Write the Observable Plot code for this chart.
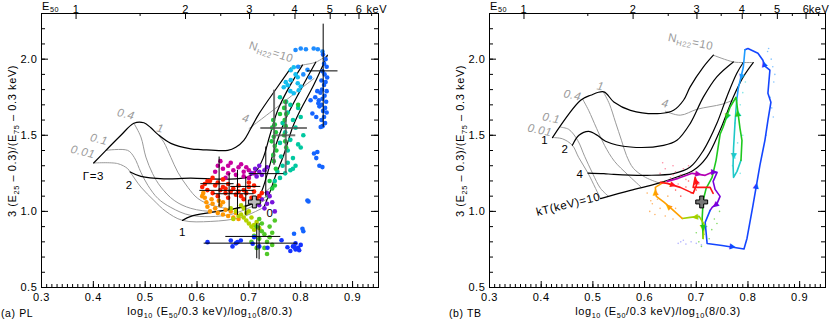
<!DOCTYPE html>
<html>
<head>
<meta charset="utf-8">
<script src="https://cdn.jsdelivr.net/npm/d3@7"></script>
<script src="https://cdn.jsdelivr.net/npm/@observablehq/plot@0.6"></script>
<style>
html,body{margin:0;padding:0;background:#fff;}
#wrap{display:flex;flex-direction:row;width:830px;height:321px;overflow:hidden;}
#wrap svg{display:block;flex:none;}
</style>
</head>
<body>
<div id="wrap"></div>
<script>
const FONT = "'Liberation Sans', Arial, Helvetica, sans-serif";
const LS = "0.6px";

// ---------- axis ticks ----------
const xTickMajor = [0.3,0.4,0.5,0.6,0.7,0.8,0.9];
const xTickMinor = d3.range(31, 95).map(i => i / 100);
const yTickMajor = [0.5,1.0,1.5,2.0];
const yTickMinor = d3.range(6, 23).map(i => i / 10);
const eTickMajor = [1,2,3,4,5,6];
const eTickMinor = [1.5,2.5,3.5,4.5,5.5,6.5];
const eUnit = "keV";
const toX = E => Math.log10(E / 0.3) / Math.log10(8 / 0.3);

// ---------- (a) PL model grid ----------
const pl_G3 = [[0.4006,1.318],[0.4243,1.401],[0.4532,1.5],[0.4782,1.579],[0.4975,1.582],[0.511,1.549],[0.5245,1.506],[0.5495,1.447],[0.588,1.411],[0.6073,1.406],[0.6593,1.401],[0.6747,1.421],[0.6902,1.467],[0.7029,1.54],[0.7197,1.642],[0.7551,1.817],[0.7807,1.941]];
const pl_G2 = [[0.4711,1.259],[0.4917,1.230],[0.536,1.214],[0.588,1.218],[0.6522,1.212],[0.6973,1.225],[0.715,1.27],[0.7275,1.35],[0.7405,1.5],[0.7551,1.66],[0.775,1.8],[0.8033,1.961]];
const pl_G1 = [[0.572,0.941],[0.588,0.967],[0.6266,0.993],[0.6747,1.02],[0.7075,1.053],[0.723,1.12],[0.7358,1.25],[0.7486,1.4],[0.77,1.6],[0.80,1.8],[0.8289,1.98]];
const pl_G0 = [[0.7287,1.026],[0.7383,1.105],[0.7518,1.237],[0.7672,1.37],[0.784,1.55],[0.797,1.65],[0.825,1.83],[0.8514,2.026]];
const pl_NH001 = [[0.4006,1.318],[0.4468,1.314],[0.4661,1.281],[0.4711,1.258],[0.4917,1.16],[0.5168,1.072],[0.5399,1.0],[0.572,0.941],[0.6266,0.934],[0.6844,0.96],[0.7287,1.026]];
const pl_NH01 = [[0.4243,1.401],[0.4661,1.401],[0.4788,1.355],[0.4917,1.257],[0.5052,1.171],[0.5245,1.085],[0.5495,1.026],[0.588,0.974],[0.6651,0.98],[0.7345,1.079]];
const pl_NH04 = [[0.4782,1.579],[0.4917,1.489],[0.5013,1.357],[0.5143,1.248],[0.5302,1.16],[0.5559,1.072],[0.588,1.02],[0.6362,1.0],[0.6941,1.033],[0.7383,1.105]];
const pl_NH1 = [[0.5245,1.506],[0.536,1.454],[0.5495,1.355],[0.563,1.257],[0.5823,1.158],[0.6015,1.085],[0.6304,1.039],[0.6844,1.023],[0.7461,1.171]];
const pl_NH4 = [[0.7004,1.544],[0.762,1.705],[0.800,1.806],[0.8256,1.873]];
const pl_NH10 = [[0.7807,1.941],[0.8033,1.961],[0.8289,1.98],[0.8514,2.026]];

// ---------- (b) TB model grid ----------
const tb_kT1 = [[0.4218,1.485],[0.4763,1.730],[0.4956,1.763],[0.5212,1.785],[0.5405,1.719],[0.5727,1.664],[0.6305,1.643],[0.6561,1.664],[0.6753,1.730],[0.6882,1.818],[0.7139,1.949],[0.7331,2.026]];
const tb_kT2 = [[0.4603,1.434],[0.473,1.5],[0.4917,1.526],[0.5085,1.5],[0.5245,1.461],[0.5727,1.423],[0.6368,1.434],[0.6626,1.467],[0.6882,1.577],[0.7139,1.752],[0.7397,1.884],[0.7717,1.982]];
const tb_kT4 = [[0.4904,1.252],[0.5212,1.248],[0.5405,1.243],[0.6048,1.237],[0.6561,1.248],[0.6882,1.291],[0.7139,1.401],[0.7397,1.577],[0.759,1.752],[0.7782,1.906],[0.7909,1.978]];
const tb_kT10 = [[0.5148,1.084],[0.5727,1.138],[0.6241,1.182],[0.6626,1.226],[0.6946,1.270],[0.7204,1.357],[0.746,1.533],[0.7717,1.752],[0.7909,1.884],[0.8102,1.978]];
const tb_NH001 = [[0.4218,1.485],[0.441,1.477],[0.4603,1.434],[0.4724,1.355],[0.4904,1.252],[0.5052,1.151],[0.5148,1.084]];
const tb_NH01 = [[0.4378,1.553],[0.4532,1.539],[0.4705,1.467],[0.484,1.362],[0.4994,1.25],[0.5148,1.151],[0.5303,1.099]];
const tb_NH04 = [[0.4802,1.737],[0.4917,1.664],[0.5071,1.546],[0.5225,1.434],[0.5418,1.329],[0.5669,1.243],[0.5938,1.158]];
const tb_NH1 = [[0.5206,1.783],[0.5322,1.704],[0.5437,1.586],[0.5553,1.467],[0.5649,1.368],[0.5784,1.283],[0.6015,1.224],[0.6305,1.184]];
const tb_NH4 = [[0.6401,1.658],[0.669,1.632],[0.7017,1.671],[0.7499,1.704],[0.769,1.728]];
const tb_NH10 = [[0.7331,2.026],[0.7717,1.982],[0.7909,1.978],[0.8102,1.978]];

// ---------- (a) PL data points ----------
const lp_sky = [[0.790,2.06],[0.800,2.07],[0.810,2.065],[0.825,2.07],[0.833,2.065],[0.842,2.05],[0.805,1.90],[0.813,1.93],[0.818,1.88],[0.795,1.95]];
const lp_blue = [[0.843,2.03],[0.848,2.0],[0.845,1.97],[0.85,1.95],[0.842,1.92],[0.846,1.9],[0.851,1.88],[0.84,1.86],[0.848,1.85],[0.845,1.83],[0.841,1.8],[0.85,1.79],[0.838,1.78],[0.846,1.76],[0.842,1.74],[0.849,1.72],[0.84,1.7],[0.847,1.68],[0.843,1.66],[0.85,1.65],[0.845,1.62],[0.84,1.6],[0.847,1.58],[0.842,1.56],[0.835,1.73],[0.832,1.79],[0.836,1.69],[0.83,1.62],[0.819,1.73],[0.8225,1.643],[0.8256,1.38],[0.832,1.39],[0.8385,1.554],[0.828,1.75],[0.834,1.71],[0.8418,1.291],[0.8129,1.072],[0.815,1.065],[0.8033,0.886],[0.805,0.87],[0.7871,0.853],[0.83,1.35],[0.836,1.3]];
const lp_cyan = [[0.7807,1.927],[0.7865,1.947],[0.7942,1.881],[0.7942,1.842],[0.7807,1.862],[0.775,1.829],[0.7672,1.816],[0.7711,1.849],[0.7961,1.796],[0.7865,1.776],[0.80,1.82],[0.78,1.79],[0.79,1.9]];
const lp_teal = [[0.76,1.75],[0.772,1.72],[0.78,1.7],[0.795,1.68],[0.8,1.62],[0.785,1.6],[0.775,1.65],[0.765,1.58],[0.79,1.55],[0.805,1.5],[0.78,1.47],[0.77,1.52],[0.795,1.44],[0.8,1.42],[0.76,1.45],[0.775,1.4],[0.785,1.35],[0.775,1.32],[0.765,1.3],[0.79,1.3],[0.78,1.27],[0.77,1.25],[0.76,1.22],[0.75,1.2],[0.785,1.28],[0.762,1.36],[0.755,1.26]];
const lp_green = [[0.747,1.6],[0.75,1.57],[0.745,1.55],[0.752,1.52],[0.748,1.49],[0.744,1.46],[0.75,1.43],[0.753,1.4],[0.747,1.37],[0.77,1.72],[0.768,1.68],[0.772,1.64],[0.769,1.6],[0.771,1.56],[0.768,1.5],[0.77,1.46],[0.772,1.42],[0.76,1.64],[0.795,1.7],[0.74,1.2],[0.745,1.15],[0.738,1.1],[0.75,1.17],[0.748,1.33],[0.752,1.28]];
const lp_magenta = [[0.64,1.3],[0.65,1.28],[0.66,1.3],[0.67,1.27],[0.68,1.29],[0.69,1.26],[0.7,1.27],[0.66,1.25],[0.675,1.24],[0.69,1.23],[0.645,1.33],[0.655,1.22],[0.685,1.31],[0.7,1.22],[0.635,1.26],[0.71,1.25],[0.665,1.32],[0.695,1.29]];
const lp_purple = [[0.712,1.28],[0.72,1.3],[0.73,1.27],[0.725,1.24],[0.715,1.23],[0.735,1.29],[0.72,1.26],[0.705,1.25],[0.725,1.08],[0.735,1.05],[0.74,1.1],[0.73,1.02],[0.745,1.06],[0.72,1.04],[0.75,1.0],[0.735,1.12]];
const lp_red = [[0.615,1.18],[0.625,1.2],[0.635,1.17],[0.64,1.19],[0.65,1.16],[0.66,1.18],[0.67,1.15],[0.68,1.17],[0.69,1.14],[0.7,1.16],[0.71,1.13],[0.62,1.14],[0.63,1.12],[0.645,1.14],[0.655,1.12],[0.665,1.13],[0.675,1.11],[0.685,1.1],[0.695,1.12],[0.705,1.09],[0.715,1.08],[0.72,1.1],[0.725,1.12],[0.64,1.1],[0.66,1.09],[0.69,1.08],[0.62,1.2],[0.63,1.22],[0.65,1.21],[0.7,1.19],[0.61,1.16],[0.655,1.15],[0.68,1.13],[0.71,1.17]];
const lp_orange = [[0.612,1.12],[0.615,1.09],[0.618,1.06],[0.62,1.03],[0.625,1.0],[0.63,1.05],[0.635,1.02],[0.64,0.99],[0.645,1.04],[0.65,0.98],[0.655,1.01],[0.66,0.97],[0.665,1.0],[0.67,0.96],[0.675,0.99],[0.68,0.95],[0.628,1.08],[0.642,1.07],[0.61,1.1],[0.65,1.06]];
const lp_ygreen = [[0.665,1.02],[0.675,1.0],[0.685,0.98],[0.69,0.96],[0.695,0.94],[0.7,0.92],[0.705,0.9],[0.71,0.88],[0.695,0.99],[0.705,0.96],[0.715,0.93],[0.69,1.02],[0.68,0.97],[0.7,1.0],[0.71,0.91],[0.72,0.89],[0.67,0.95],[0.685,1.04]];
const lp_lime = [[0.72,0.95],[0.715,0.9],[0.725,0.87],[0.73,0.85],[0.72,0.82],[0.735,0.8],[0.71,0.84],[0.74,0.83],[0.745,0.78],[0.73,0.76],[0.725,0.92],[0.74,0.9],[0.75,0.94],[0.705,0.8],[0.735,0.72],[0.715,0.76],[0.745,0.86]];
const lp_dblue = [[0.71,0.831],[0.7073,0.787],[0.6844,0.809],[0.678,0.798],[0.6651,0.809],[0.6684,0.77],[0.6202,0.798],[0.7744,0.764],[0.763,0.81],[0.7359,0.761],[0.79,0.75],[0.795,0.76],[0.785,0.77],[0.8,0.78],[0.79,0.79],[0.78,0.74],[0.797,0.745],[0.788,0.765],[0.675,0.79],[0.72,0.77]];

// error bars (a)
const errX   = [0.8433,0.7486,0.7711,0.6426,0.6619,0.678,0.694,0.7326,0.7152,0.7197];
const errY   = [1.923,1.548,1.5,1.182,1.138,1.116,1.164,1.248,0.8355,0.7914];
const errXlo = [0.8129,0.723,0.7518,0.6073,0.6054,0.633,0.6651,0.7004,0.6555,0.6137];
const errXhi = [0.8719,0.8129,0.7904,0.6715,0.71,0.71,0.723,0.7678,0.7615,0.7936];
const errYlo = [1.553,1.303,1.25,1.028,1.007,0.974,0.974,1.094,0.6888,0.6822];
const errYhi = [2.230,1.796,1.73,1.357,1.248,1.27,1.226,1.423,0.919,0.919];
const errGray = [false,true,true,false,false,false,false,false,false,false];

const plusPoint = [0.7105, 1.062];

// ---------- (b) TB tracks ----------
const tr_magenta = [[0.6439,1.1972],[0.6651,1.2169],[0.6921,1.2498],[0.7172,1.2367],[0.7307,1.2564]];
const tr_violet = [[0.7307,1.2564],[0.7403,1.2564],[0.7326,1.1972],[0.7364,1.1446],[0.7461,1.0985],[0.7403,1.0525],[0.7307,1.0261],[0.7268,1.0064]];
const tr_blue = [[0.7268,1.0064],[0.7172,0.9275],[0.721,0.7893],[0.7499,0.7761],[0.7923,0.7531],[0.7981,0.8222],[0.8097,1.0393],[0.8231,1.3025],[0.8328,1.467],[0.8386,1.5985],[0.8444,1.717],[0.8386,1.776],[0.8424,1.9275],[0.8328,1.9538],[0.8289,1.9933],[0.8193,2.0393],[0.8,2.0702],[0.7942,2.0623]];
const tr_sky = [[0.7942,2.0623],[0.791,1.947],[0.7813,1.809],[0.7782,1.730]];
const tr_teal = [[0.7782,1.730],[0.775,1.5854],[0.7721,1.4143],[0.7712,1.3025],[0.7721,1.2235],[0.7788,1.263],[0.7865,1.3354]];
const tr_green = [[0.7865,1.3354],[0.7884,1.4669],[0.7846,1.5459],[0.7769,1.7498],[0.7653,1.684],[0.7518,1.5525],[0.7461,1.5064],[0.7383,1.3354],[0.7306,1.2235],[0.7191,1.1512],[0.7133,1.0722],[0.7114,0.9538],[0.7133,0.8222]];
const tr_ygreen = [[0.7133,0.8222],[0.7152,0.9143],[0.7056,0.967],[0.6882,0.9604],[0.6728,0.9538]];
const tr_orange = [[0.6728,0.9538],[0.6535,1.013],[0.6381,1.059],[0.6227,1.0985],[0.6208,1.1577],[0.6362,1.1906]];
const tr_red = [[0.6305,1.1906],[0.6439,1.184],[0.669,1.1577],[0.694,1.1183],[0.7017,1.184],[0.6978,1.2235],[0.694,1.1577],[0.7268,1.1577],[0.7326,1.1183]];

// faint scattered points (b)
const tb_pink = [[0.63,1.25],[0.64,1.28],[0.65,1.22],[0.655,1.3],[0.66,1.26],[0.67,1.24],[0.675,1.28],[0.68,1.21],[0.645,1.2],[0.69,1.25],[0.635,1.32],[0.665,1.18],[0.685,1.3],[0.655,1.24]];
const tb_orangeDots = [[0.61,1.0],[0.615,1.05],[0.62,0.98],[0.625,1.08],[0.63,1.02],[0.64,0.97],[0.645,1.1],[0.655,0.95],[0.605,1.12],[0.62,1.12],[0.66,1.02],[0.612,1.07]];
const tb_redDots = [[0.66,1.14],[0.67,1.1],[0.68,1.16],[0.69,1.12],[0.7,1.14],[0.685,1.2],[0.705,1.18]];
const tb_greenDots = [[0.705,0.8],[0.71,0.77],[0.715,0.85],[0.72,0.9],[0.725,0.82],[0.73,0.88],[0.735,0.95],[0.7,0.86],[0.74,0.92],[0.745,1.0]];
const tb_lavDots = [[0.665,0.79],[0.67,0.8],[0.68,0.785],[0.69,0.8],[0.7,0.79],[0.71,0.78],[0.675,0.81]];
const tb_cyanDots = [[0.77,1.3],[0.775,1.35],[0.78,1.45],[0.785,1.25],[0.79,1.5],[0.775,1.58],[0.785,1.7],[0.79,1.78],[0.795,1.85]];
const tb_lblueDots = [[0.84,2.07],[0.845,2.0],[0.848,1.95],[0.85,1.85],[0.843,1.75],[0.846,1.68],[0.849,1.62],[0.838,2.05],[0.852,1.9],[0.835,1.5]];

// ---------- helpers ----------
const grp = (arr, c) => arr.map(([x, y]) => ({x, y, c}));
function arrowsOf(track, idxs, c) {
  return idxs.map(i => {
    const a = track[i], b = track[i + 1];
    const ang = Math.atan2((b[0] - a[0]) * 519, (b[1] - a[1]) * 152) * 180 / Math.PI;
    return {x: (a[0] + b[0]) / 2, y: (a[1] + b[1]) / 2, ang, c};
  });
}
function rich(svg, x, y, parts, o = {}) {
  const size = o.size || 11;
  const t = d3.select(svg).append("text")
    .attr("x", x).attr("y", y)
    .attr("text-anchor", o.anchor || "start")
    .attr("font-size", size)
    .attr("font-family", FONT)
    .attr("letter-spacing", o.ls || LS)
    .attr("fill", o.fill || "black");
  if (o.rotate) t.attr("transform", `rotate(${o.rotate},${x},${y})`);
  let shift = 0;
  for (const [s, isSub] of parts) {
    const want = isSub ? 2.6 : 0;
    const ts = t.append("tspan").text(s).attr("dy", want - shift);
    if (isSub) ts.attr("font-size", size * 0.66);
    shift = want;
  }
}
const line = (d, stroke, w) => Plot.line(d, {x: d => d[0], y: d => d[1], stroke, strokeWidth: w, curve: "catmull-rom"});

function panel(cfg) {
  const mL = 41, mT = 13, mB = 34, H = 321;
  const fw = cfg.width - mL - cfg.mR, fh = H - mT - mB;
  const marks = [
    ...cfg.gray.map(c => line(c, "#9a9a9a", 1)),
    ...cfg.black.map(c => line(c, "black", 1.2)),
    ...cfg.marks,
    // ticks
    Plot.tickX(xTickMinor, {x: d => d, insetTop: fh - 3, stroke: "black"}),
    Plot.tickX(xTickMajor, {x: d => d, insetTop: fh - 6, stroke: "black"}),
    Plot.tickX(eTickMinor.map(toX), {x: d => d, insetBottom: fh - 3, stroke: "black"}),
    Plot.tickX(eTickMajor.map(toX), {x: d => d, insetBottom: fh - 6, stroke: "black"}),
    Plot.tickY(yTickMinor, {y: d => d, insetRight: fw - 4, stroke: "black"}),
    Plot.tickY(yTickMinor, {y: d => d, insetLeft: fw - 4, stroke: "black"}),
    Plot.tickY(yTickMajor, {y: d => d, insetRight: fw - 7, stroke: "black"}),
    Plot.tickY(yTickMajor, {y: d => d, insetLeft: fw - 7, stroke: "black"}),
    Plot.text(xTickMajor, {x: d => d, text: d => d.toFixed(1), frameAnchor: "bottom", dy: 13, fontSize: 11}),
    Plot.text(yTickMajor, {y: d => d, text: d => d.toFixed(1), frameAnchor: "left", dx: -4, textAnchor: "end", fontSize: 11}),
    Plot.text(eTickMajor, {x: d => toX(d), text: d => String(d), frameAnchor: "top", dy: -8, fontSize: 11}),
    Plot.text([eUnit], {text: d => d, frameAnchor: "top-right", dx: cfg.kevDx, dy: -8, textAnchor: cfg.kevAnchor, fontSize: 11}),
    Plot.frame({stroke: "black", strokeWidth: 1})
  ];
  const p = Plot.plot({
    width: cfg.width, height: H,
    marginLeft: mL, marginRight: cfg.mR, marginTop: mT, marginBottom: mB,
    x: {domain: [0.3, 0.95], axis: null},
    y: {domain: [0.5, 2.3], axis: null},
    color: {type: "identity"},
    style: {fontFamily: FONT, fontSize: "11px", letterSpacing: LS, background: "white", overflow: "visible"},
    marks
  });
  const sx = p.scale("x").apply, sy = p.scale("y").apply;
  rich(p, 42, 9.5, [["E", 0], ["50", 1]], {size: 11});
  rich(p, 210, 315, [["log", 0], ["10", 1], [" (E", 0], ["50", 1], ["/0.3 keV)/log", 0], ["10", 1], ["(8/0.3)", 0]], {anchor: "middle", size: 11});
  rich(p, 16, 141, [["3 (E", 0], ["25", 1], [" \u2013 0.3)/(E", 0], ["75", 1], [" \u2013 0.3 keV)", 0]], {anchor: "middle", size: 11, rotate: -90});
  rich(p, 1, 317, [[cfg.tag, 0]], {size: 10.5});
  rich(p, sx(cfg.nh[0]), sy(cfg.nh[1]), [["N", 0], ["H22", 1], ["=10", 0]], {anchor: "middle", size: 11.5, fill: "#9a9a9a", rotate: cfg.nh[2]});
  return p;
}

// ---------- panel (a) ----------
const leftPts = [
  ...grp(lp_sky, "#1e8cff"), ...grp(lp_blue, "#1464ff"), ...grp(lp_cyan, "#14bef0"),
  ...grp(lp_teal, "#00c8a0"), ...grp(lp_green, "#1ec83c"), ...grp(lp_magenta, "#c800a0"),
  ...grp(lp_purple, "#7814dc"), ...grp(lp_red, "#ff1e00"), ...grp(lp_orange, "#ff9600"),
  ...grp(lp_ygreen, "#b4d200"), ...grp(lp_lime, "#50c828"), ...grp(lp_dblue, "#1432ff")
];
const errIdx = d3.range(errX.length);
const blackErr = errIdx.filter(i => !errGray[i]), grayErr = errIdx.filter(i => errGray[i]);

const left = panel({
  width: 448, mR: 70, tag: "(a) PL", nh: [0.742, 2.02, 18], kevDx: -12, kevAnchor: "start",
  gray: [pl_NH001, pl_NH01, pl_NH04, pl_NH1, pl_NH4, pl_NH10],
  black: [pl_G3, pl_G2, pl_G1, pl_G0],
  marks: [
    Plot.dot(leftPts, {x: "x", y: "y", r: 2.3, fill: "c"}),
    Plot.ruleY(grayErr, {y: i => errY[i], x1: i => errXlo[i], x2: i => errXhi[i], stroke: "#555", strokeWidth: 2, strokeOpacity: 0.8}),
    Plot.ruleX(grayErr, {x: i => errX[i], y1: i => errYlo[i], y2: i => errYhi[i], stroke: "#555", strokeWidth: 2, strokeOpacity: 0.8}),
    Plot.ruleY(blackErr, {y: i => errY[i], x1: i => errXlo[i], x2: i => errXhi[i], stroke: "black", strokeWidth: 1}),
    Plot.ruleX(blackErr, {x: i => errX[i], y1: i => errYlo[i], y2: i => errYhi[i], stroke: "black", strokeWidth: 1}),
    Plot.dot([plusPoint], {x: d => d[0], y: d => d[1], symbol: "cross", r: 5, fill: "#bbb", stroke: "black", strokeWidth: 1}),
    Plot.text([{x: 0.4628, y: 1.638, t: "0.4"}, {x: 0.4108, y: 1.473, t: "0.1"}, {x: 0.38, y: 1.391, t: "0.01"}, {x: 0.529, y: 1.545, t: "1"}, {x: 0.694, y: 1.61, t: "4"}],
      {x: "x", y: "y", text: "t", fill: "#9a9a9a", fontStyle: "italic", fontSize: 11.5, rotate: 14}),
    Plot.text([{x: 0.4002, y: 1.23, t: "\u0393=3"}, {x: 0.4692, y: 1.171, t: "2"}, {x: 0.572, y: 0.864, t: "1"}, {x: 0.7409, y: 0.985, t: "0"}],
      {x: "x", y: "y", text: "t", fill: "black", fontSize: 11.5})
  ]
});

// ---------- panel (b) ----------
const rightDots = [
  ...grp(tb_pink, "#ff6e8c"), ...grp(tb_orangeDots, "#ffa040"), ...grp(tb_redDots, "#ff3c3c"),
  ...grp(tb_greenDots, "#64d23c"), ...grp(tb_lavDots, "#a0a0ff"), ...grp(tb_cyanDots, "#64e0e0"),
  ...grp(tb_lblueDots, "#64b4ff")
];
const tracks = [
  [tr_magenta, "#b400b4", [2]], [tr_violet, "#7800dc", [0, 5]], [tr_blue, "#1446ff", [3, 6, 13]],
  [tr_sky, "#1e9bff", [1]], [tr_teal, "#1ec8c8", [2]], [tr_green, "#1ec81e", [2, 4, 11]],
  [tr_ygreen, "#a0d200", [2]], [tr_orange, "#ffa000", [1, 3]], [tr_red, "#ff1414", [1, 4]]
];
const arrowHeads = tracks.flatMap(([t, c, idx]) => arrowsOf(t, idx, c));

const right = panel({
  width: 382, mR: 5, tag: "(b) TB", nh: [0.6888, 2.087, 12], kevDx: 4, kevAnchor: "end",
  gray: [tb_NH001, tb_NH01, tb_NH04, tb_NH1, tb_NH4, tb_NH10],
  black: [tb_kT1, tb_kT2, tb_kT4, tb_kT10],
  marks: [
    Plot.dot(rightDots, {x: "x", y: "y", r: 0.8, fill: "c", fillOpacity: 0.8}),
    ...tracks.map(([t, c]) => Plot.line(t, {x: d => d[0], y: d => d[1], stroke: c, strokeWidth: 1.6})),
    Plot.text(arrowHeads, {x: "x", y: "y", text: () => "\u25B2", fill: "c", rotate: "ang", fontSize: 8, fontFamily: "DejaVu Sans"}),
    Plot.dot([plusPoint], {x: d => d[0], y: d => d[1], symbol: "cross", r: 5, fill: "#777", stroke: "black", strokeWidth: 1}),
    Plot.text([{x: 0.4603, y: 1.763, t: "0.4"}, {x: 0.5148, y: 1.822, t: "1"}, {x: 0.4195, y: 1.612, t: "0.1"}, {x: 0.3973, y: 1.533, t: "0.01"}, {x: 0.64, y: 1.708, t: "4"}],
      {x: "x", y: "y", text: "t", fill: "#9a9a9a", fontStyle: "italic", fontSize: 11.5, rotate: 12}),
    Plot.text([{x: 0.4069, y: 1.467, t: "1"}, {x: 0.446, y: 1.406, t: "2"}, {x: 0.475, y: 1.243, t: "4"}],
      {x: "x", y: "y", text: "t", fill: "black", fontSize: 11.5}),
    Plot.text([{x: 0.4522, y: 1.046, t: "kT(keV)=10"}], {x: "x", y: "y", text: "t", fill: "black", fontSize: 11.5, rotate: -14})
  ]
});

document.getElementById("wrap").append(left, right);
</script>
</body>
</html>
